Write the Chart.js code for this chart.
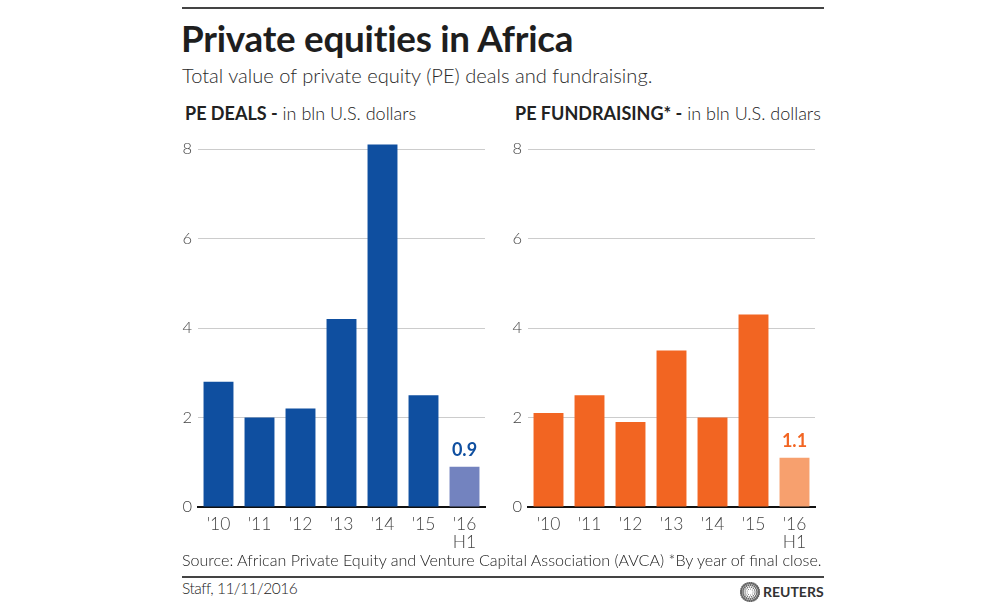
<!DOCTYPE html>
<html>
<head>
<meta charset="utf-8">
<script src="https://cdn.jsdelivr.net/npm/chart.js@4.4.1/dist/chart.umd.min.js"></script>
<style>
  body { margin: 0; background: #fff; width: 1000px; height: 603px; position: relative; overflow: hidden; font-family: Lato, sans-serif; color: #222; }
  .abs { position: absolute; white-space: nowrap; }
  .rule { position: absolute; left: 182px; width: 642px; height: 2px; background: #444; }
  #title { left: 181px; top: 16px; font-size: 36.8px; font-weight: 700; letter-spacing: -0.25px; color: #1e1e1e; }
  #subtitle { left: 182px; top: 63px; font-size: 20.1px; font-weight: 300; color: #2a2a2a; }
  .head { top: 102px; font-size: 18px; font-weight: 300; color: #222; }
  .head b { font-weight: 700; }
  #source { left: 182px; top: 550px; font-size: 16.1px; font-weight: 300; color: #222; }
  #staff { left: 182px; top: 579px; font-size: 15.5px; font-weight: 300; color: #222; letter-spacing: -0.5px; }
  #reuters { left: 763px; top: 583px; font-size: 14px; font-weight: 700; color: #333; letter-spacing: 0px; }
  canvas { position: absolute; }
</style>
</head>
<body>
<div class="rule" style="top:7px"></div>
<div id="title" class="abs">Private equities in Africa</div>
<div id="subtitle" class="abs">Total value of private equity (PE) deals and fundraising.</div>
<div class="abs head" style="left:185px"><b>PE DEALS -</b> in bln U.S. dollars</div>
<div class="abs head" style="left:515px"><b>PE FUNDRAISING* -</b> in bln U.S. dollars</div>

<div style="position:absolute;left:150px;top:130px;width:345px;height:425px"><canvas id="deals" width="345" height="425"></canvas></div>
<div style="position:absolute;left:480px;top:130px;width:345px;height:425px"><canvas id="funds" width="345" height="425"></canvas></div>

<div id="source" class="abs">Source: African Private Equity and Venture Capital Association (AVCA) *By year of final close.</div>
<div class="rule" style="top:576px"></div>
<div id="staff" class="abs">Staff, 11/11/2016</div>
<svg style="position:absolute;left:740px;top:582px" width="20" height="20" viewBox="0 0 20 20" id="logo"></svg>
<div id="reuters" class="abs">REUTERS</div>

<script>
var years = ["'10", "'11", "'12", "'13", "'14", "'15", ["'16", "H1"]];
var dealsValues = [2.8, 2.0, 2.2, 4.2, 8.1, 2.5, 0.9];
var fundValues = [2.1, 2.5, 1.9, 3.5, 2.0, 4.3, 1.1];
var yTicks = [0, 2, 4, 6, 8];

// reuters dotted ring
(function () {
    var svg = document.getElementById("logo");
    var html = "";
    for (var r = 3; r <= 9; r += 2) {
        var n = Math.round(r * 3);
        for (var i = 0; i < n; i++) {
            var a = (i / n) * Math.PI * 2;
            var s = 0.5 + (r - 3) * 0.12;
            html += '<circle cx="' + (10 + r * Math.cos(a)).toFixed(2) + '" cy="' + (10 + r * Math.sin(a)).toFixed(2) + '" r="' + s.toFixed(2) + '" fill="#666"/>';
        }
    }
    svg.innerHTML = html;
})();

var lastLabel = {
    id: "lastLabel",
    afterDatasetsDraw: function (chart, args, opts) {
        var meta = chart.getDatasetMeta(0);
        var i = meta.data.length - 1;
        var bar = meta.data[i];
        var ctx = chart.ctx;
        ctx.save();
        ctx.font = "700 18px Lato";
        ctx.fillStyle = opts.color;
        ctx.textAlign = "center";
        ctx.textBaseline = "bottom";
        ctx.fillText(chart.data.datasets[0].data[i].toFixed(1), bar.x, bar.y - 8);
        ctx.restore();
    }
};

function makeChart(id, values, dark, light) {
    var colors = values.map(function (v, i) { return i === values.length - 1 ? light : dark; });
    return new Chart(document.getElementById(id), {
        type: "bar",
        data: {
            labels: years,
            datasets: [{
                data: values,
                backgroundColor: colors,
                borderWidth: 0,
                barPercentage: 0.73,
                categoryPercentage: 1.0,
                clip: false
            }]
        },
        plugins: [lastLabel],
        options: {
            responsive: false,
            animation: false,
            layout: { padding: { top: 19, right: 10, bottom: 0, left: 0 } },
            plugins: {
                legend: { display: false },
                tooltip: { enabled: false },
                lastLabel: { color: dark }
            },
            scales: {
                x: {
                    grid: { display: false },
                    border: { display: true, color: "#111", width: 2 },
                    ticks: { color: "#444", font: { family: "Lato", size: 17.5, weight: 300, lineHeight: 1.05 }, padding: 0, maxRotation: 0 },
                    afterFit: function (s) { s.height = 48; }
                },
                y: {
                    min: 0,
                    max: 8,
                    afterBuildTicks: function (s) { s.ticks = yTicks.map(function (v) { return { value: v }; }); },
                    grid: {
                        drawTicks: false,
                        color: function (c) { return c.tick && c.tick.value === 0 ? "rgba(0,0,0,0)" : "#cccccc"; },
                        lineWidth: 1
                    },
                    border: { display: false },
                    ticks: { color: "#444", font: { family: "Lato", size: 16.5, weight: 300 }, padding: 6 },
                    afterFit: function (s) { s.width = 48; }
                }
            }
        }
    });
}

makeChart("deals", dealsValues, "#0f4fa0", "#7383bf");
makeChart("funds", fundValues, "#f26522", "#f7a06e");
</script>
</body>
</html>
